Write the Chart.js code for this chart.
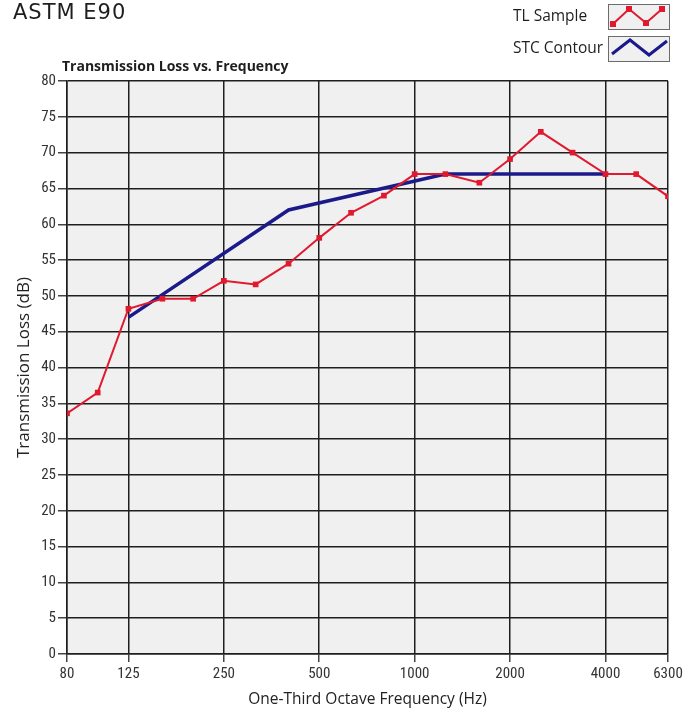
<!DOCTYPE html>
<html>
<head>
<meta charset="utf-8">
<script src="https://cdn.jsdelivr.net/npm/chart.js@4"></script>
<style>
  html, body { margin: 0; padding: 0; background: #fff; }
  #wrap { width: 692px; height: 709px; }
</style>
</head>
<body>
<div id="wrap"><canvas id="myChart" width="692" height="709"></canvas></div>
<script>
// one-third octave bands (Hz) and measured transmission loss (dB)
var bands = [80, 100, 125, 160, 200, 250, 315, 400, 500, 630, 800, 1000, 1250, 1600, 2000, 2500, 3150, 4000, 5000, 6300];
var tlSample = [33.6, 36.5, 48.2, 49.6, 49.6, 52.1, 51.6, 54.5, 58.1, 61.6, 64, 67, 67, 65.8, 69.1, 72.9, 70, 67, 67, 63.9];

// STC contour break points
var stcBands = [125, 400, 1250, 4000];
var stcContour = [47, 62, 67, 67];

var xTicks = [80, 125, 250, 500, 1000, 2000, 4000, 6300];

var tickFont = '"Liberation Sans Narrow", "Roboto Condensed", "Liberation Sans", sans-serif';
var textFont = '"Open Sans", sans-serif';
var gridColor = '#1e1e1e';

function pairs(xs, ys) {
    return xs.map(function (x, i) { return {x: x, y: ys[i]}; });
}

var plotBg = {
    id: 'plotBg',
    beforeDraw: function (chart) {
        var a = chart.chartArea, c = chart.ctx;
        c.save();
        c.fillStyle = '#f0f0f0';
        c.fillRect(a.left, a.top, a.right - a.left, a.bottom - a.top);
        c.restore();
    }
};

// headings and the little legend boxes drawn at the top
var headings = {
    id: 'headings',
    afterDraw: function (chart) {
        var c = chart.ctx;
        c.save();
        c.fillStyle = '#1e1e1e';
        c.textBaseline = 'alphabetic';
        c.font = '21px "DejaVu Sans", sans-serif';
        c.letterSpacing = '1px';
        c.fillText('ASTM E90', 13, 19);
        c.letterSpacing = '0px';
        c.textBaseline = 'middle';
        c.font = 'bold 14px ' + textFont;
        c.fillText('Transmission Loss vs. Frequency', 62, 67);

        c.font = '15.5px ' + textFont;
        c.fillText('TL Sample', 513, 17);
        c.fillText('STC Contour', 513, 49);

        function box(y, color, width, pts, marks) {
            c.fillStyle = '#f0f0f0';
            c.fillRect(608, y, 62, 26);
            c.strokeStyle = '#6b6b6b';
            c.lineWidth = 1;
            c.strokeRect(608.5, y + 0.5, 61, 25);
            c.strokeStyle = color;
            c.lineWidth = width;
            c.beginPath();
            pts.forEach(function (p, i) {
                if (i === 0) c.moveTo(p[0], y + p[1]); else c.lineTo(p[0], y + p[1]);
            });
            c.stroke();
            if (marks) {
                c.fillStyle = color;
                pts.forEach(function (p) { c.fillRect(p[0] - 3, y + p[1] - 3, 6, 6); });
            }
        }
        box(4, '#e0192f', 2, [[613, 20], [629, 5], [646, 19], [662, 5]], true);
        box(36, '#1c1a8a', 3, [[612, 18], [630, 4], [649, 19], [667, 5]], false);
        c.restore();
    }
};

var ctx = document.getElementById('myChart');

var myChart = new Chart(ctx, {
    type: 'line',
    data: {
        datasets: [{
            label: 'TL Sample',
            data: pairs(bands, tlSample),
            borderColor: '#e0192f',
            backgroundColor: '#e0192f',
            borderWidth: 2,
            pointStyle: 'rect',
            pointRadius: 4,
            pointBorderWidth: 0,
            tension: 0
        }, {
            label: 'STC Contour',
            data: pairs(stcBands, stcContour),
            borderColor: '#1c1a8a',
            backgroundColor: '#1c1a8a',
            borderWidth: 3.5,
            pointRadius: 0,
            tension: 0
        }]
    },
    plugins: [plotBg, headings],
    options: {
        responsive: false,
        animation: false,
        layout: {
            padding: {top: 81, right: 24, bottom: 0, left: 0}
        },
        plugins: {
            legend: {display: false},
            tooltip: {enabled: false}
        },
        scales: {
            x: {
                type: 'logarithmic',
                min: 80,
                max: 6300,
                afterBuildTicks: function (axis) {
                    axis.ticks = xTicks.map(function (v) { return {value: v}; });
                },
                afterFit: function (axis) { axis.height = 55; },
                grid: {color: gridColor, lineWidth: 1.5, tickLength: 8, tickColor: '#444'},
                border: {color: gridColor, width: 1.5},
                ticks: {
                    autoSkip: false,
                    maxRotation: 0,
                    padding: 3,
                    color: '#333',
                    font: {family: tickFont, size: 15},
                    callback: function (v) { return String(v); }
                },
                title: {
                    display: true,
                    text: 'One-Third Octave Frequency (Hz)',
                    color: '#222',
                    font: {family: textFont, size: 15.5},
                    padding: {top: 0, bottom: 0}
                }
            },
            y: {
                min: 0,
                max: 80,
                afterFit: function (axis) { axis.width = 67; },
                grid: {color: gridColor, lineWidth: 1.5, tickLength: 9, tickColor: '#444'},
                border: {color: gridColor, width: 1.5},
                ticks: {
                    stepSize: 5,
                    padding: 2,
                    color: '#333',
                    font: {family: tickFont, size: 15}
                },
                title: {
                    display: true,
                    text: 'Transmission Loss (dB)',
                    color: '#222',
                    font: {family: textFont, size: 17},
                    padding: {top: 14, bottom: 0}
                }
            }
        }
    }
});
</script>
</body>
</html>
